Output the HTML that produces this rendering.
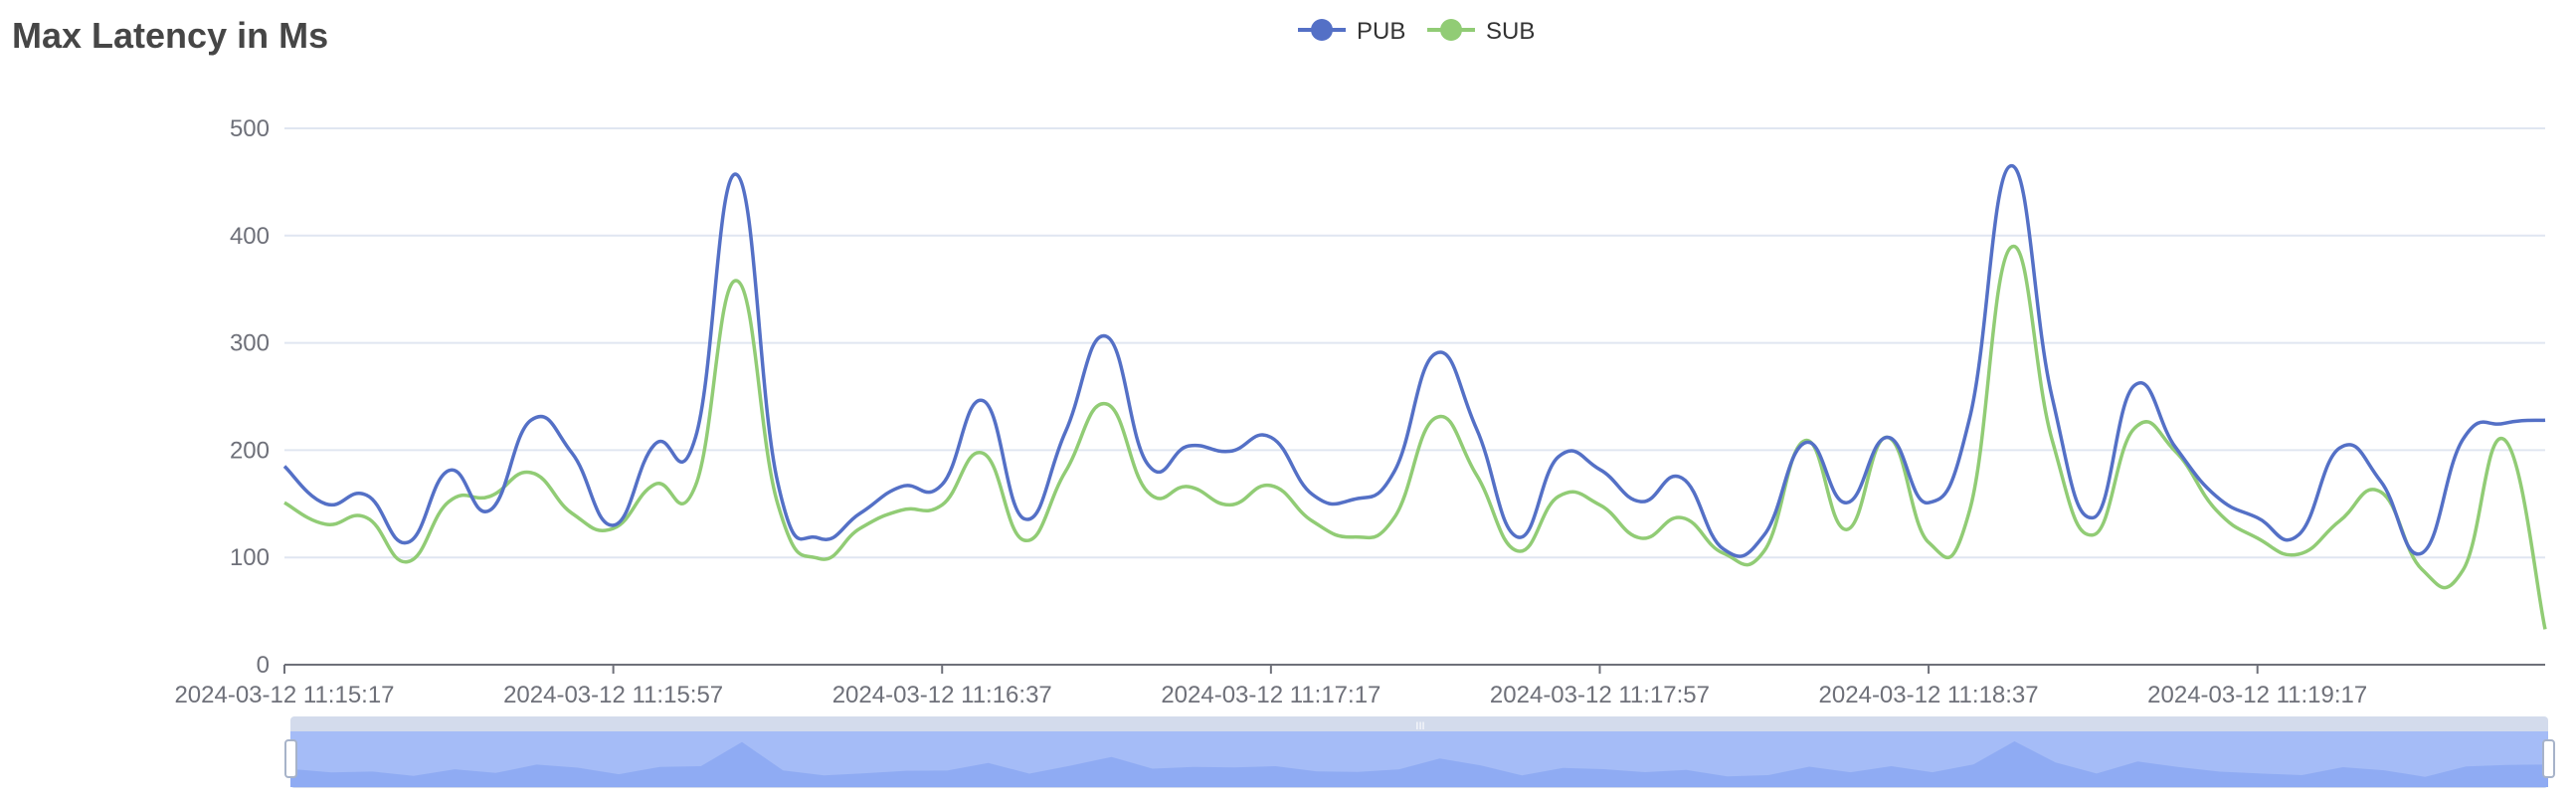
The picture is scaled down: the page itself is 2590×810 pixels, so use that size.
<!DOCTYPE html>
<html><head><meta charset="utf-8"><style>
html,body{margin:0;padding:0;background:#fff;width:2590px;height:810px;overflow:hidden}
svg text{font-family:"Liberation Sans",sans-serif}
</style></head><body>
<svg id="chart" width="2590" height="810" viewBox="0 0 2590 810">
<text x="12" y="48" font-size="36" font-weight="bold" fill="#464646">Max Latency in Ms</text>
<g>
 <g>
  <line x1="1305" y1="30" x2="1353" y2="30" stroke="#5470c6" stroke-width="4"/>
  <circle cx="1329" cy="30" r="11" fill="#5470c6"/>
  <text x="1364" y="39" font-size="24" fill="#333">PUB</text>
 </g>
 <g>
  <line x1="1435" y1="30" x2="1483" y2="30" stroke="#91cc75" stroke-width="4"/>
  <circle cx="1459" cy="30" r="11" fill="#91cc75"/>
  <text x="1494" y="39" font-size="24" fill="#333">SUB</text>
 </g>
</g>
<g id="grid"></g>
<g id="yaxis"></g>
<g id="xaxis"></g>
<g id="series"></g>
<g id="zoom"></g>
</svg>
<script>
const pubValues = [185,150,158,114,181,144,228,197,130,205,212,457,170,118,141,166,168,246,136,217,306,187,204,199,212,159,154,180,290,220,119,194,182,152,174,108,121,207,151,212,151,230,465,250,137,260,203,157,137,121,202,171,104,210,225,228];
const subValues = [151,131,137,96,152,157,179,141,127,168,167,358,150,99,127,144,149,197,116,180,243,161,166,149,167,134,119,137,230,177,106,157,149,118,137,104,106,209,126,212,114,144,389,210,121,220,199,144,118,103,134,161,89,88,210,33];
const yTicks = [0,100,200,300,400,500];
const startSeconds = 11*3600+15*60+17;
const stepSeconds = 5;
const labelEvery = 8;

const NS = "http://www.w3.org/2000/svg";
const X0 = 286, X1 = 2559, Y0 = 668, Y1 = 129, YMAX = 500;
const n = pubValues.length;
const categories = pubValues.map((_, i) => {
  const t = startSeconds + i*stepSeconds;
  const h = Math.floor(t/3600), m = Math.floor(t%3600/60), s = t%60;
  return "2024-03-12 " + h + ":" + String(m).padStart(2,"0") + ":" + String(s).padStart(2,"0");
});
const xPos = i => X0 + (X1 - X0) * i / (n - 1);
const yPos = v => Y0 - (Y0 - Y1) * v / YMAX;
function mk(tag, attrs, parent) {
  const e = document.createElementNS(NS, tag);
  for (const k in attrs) e.setAttribute(k, attrs[k]);
  parent.appendChild(e); return e;
}
const grid = document.getElementById("grid"), yaxis = document.getElementById("yaxis");
yTicks.forEach(t => {
  if (t > 0) {
    const l = mk("line", {x1: X0, x2: X1, y1: yPos(t), y2: yPos(t), stroke: "#e0e6f1", "stroke-width": 2}, grid);
    
    
  }
  const tx = mk("text", {x: 271, y: yPos(t) + 8, "font-size": 24, fill: "#6e7079", "text-anchor": "end"}, yaxis);
  tx.textContent = t;
  
  
});
const xaxis = document.getElementById("xaxis");
const axl = mk("line", {x1: X0, x2: X1, y1: Y0, y2: Y0, stroke: "#6e7079", "stroke-width": 2}, xaxis);


for (let i = 0; i < n; i += labelEvery) {
  const x = xPos(i);
  const tk = mk("line", {x1: x, x2: x, y1: Y0, y2: Y0 + 9, stroke: "#6e7079", "stroke-width": 2}, xaxis);
  
  
  const tx = mk("text", {x: x, y: 706, "font-size": 24, fill: "#6e7079", "text-anchor": "middle"}, xaxis);
  tx.textContent = categories[i];
  
  
}
function smoothPath(pts) {
  const s = 0.45;
  let d = "M" + pts[0][0] + "," + pts[0][1];
  for (let i = 0; i < pts.length - 1; i++) {
    const p0 = pts[Math.max(i-1,0)], p1 = pts[i], p2 = pts[i+1], p3 = pts[Math.min(i+2, pts.length-1)];
    const c1 = [p1[0] + (p2[0]-p0[0])*s/2, p1[1] + (p2[1]-p0[1])*s/2];
    const c2 = [p2[0] - (p3[0]-p1[0])*s/2, p2[1] - (p3[1]-p1[1])*s/2];
    d += "C" + c1[0].toFixed(1) + "," + c1[1].toFixed(1) + " " + c2[0].toFixed(1) + "," + c2[1].toFixed(1) + " " + p2[0].toFixed(1) + "," + p2[1].toFixed(1);
  }
  return d;
}
const series = document.getElementById("series");
const sp = mk("path", {d: smoothPath(subValues.map((v,i)=>[xPos(i), yPos(v)])), fill: "none", stroke: "#91cc75", "stroke-width": 3.5, "stroke-linejoin": "round"}, series);


const pp = mk("path", {d: smoothPath(pubValues.map((v,i)=>[xPos(i), yPos(v)])), fill: "none", stroke: "#5470c6", "stroke-width": 3.5, "stroke-linejoin": "round"}, series);



const zoom = document.getElementById("zoom");
const ZX0 = 292, ZX1 = 2562;
const zt = mk("rect", {x: ZX0, y: 720, width: ZX1-ZX0, height: 72, rx: 4, fill: "#d3dbec"}, zoom);


const zf = mk("rect", {x: ZX0, y: 735, width: ZX1-ZX0, height: 56, fill: "#a5bcf7"}, zoom);


const zmax = Math.max(...pubValues);
let sd = "M" + ZX0 + ",791";
pubValues.forEach((v, i) => { sd += " L" + (ZX0 + (ZX1-ZX0)*i/(n-1)).toFixed(1) + "," + (791 - v/zmax*46).toFixed(1); });
sd += " L" + ZX1 + ",791 Z";
const zs = mk("path", {d: sd, fill: "#8fabf3"}, zoom);


const hl = mk("rect", {x: 287, y: 744, width: 11, height: 37, rx: 3, fill: "#fff", stroke: "#a7b3c9", "stroke-width": 2}, zoom);


const hr = mk("rect", {x: 2557, y: 744, width: 11, height: 37, rx: 3, fill: "#fff", stroke: "#a7b3c9", "stroke-width": 2}, zoom);


const grip = mk("text", {x: 1428, y: 733, "font-size": 11, fill: "#fff", "text-anchor": "middle"}, zoom);
grip.textContent = "III";


</script>
</body></html>
